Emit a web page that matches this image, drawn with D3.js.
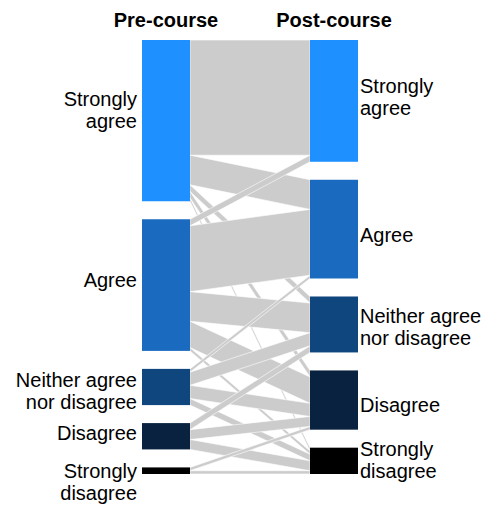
<!DOCTYPE html>
<html>
<head>
<meta charset="utf-8">
<script src="https://cdn.jsdelivr.net/npm/d3@7"></script>
<style>
  body { margin: 0; background: #fff; }
  text { font-family: "Liberation Sans", Arial, Helvetica, sans-serif; fill: #000; }
</style>
</head>
<body>
<div id="chart"></div>
<script>
// survey answers before and after the course
var stages = ["Pre-course", "Post-course"];
var levels = ["Strongly agree", "Agree", "Neither agree nor disagree", "Disagree", "Strongly disagree"];
var labelLines = [["Strongly", "agree"], ["Agree"], ["Neither agree", "nor disagree"], ["Disagree"], ["Strongly", "disagree"]];
var colors = ["#1e90ff", "#1a6bc0", "#10467e", "#092240", "#000000"];

// rows = pre-course answer, columns = post-course answer (counts)
var flows = [
    [35, 9, 2, 2, 1],
    [2, 20, 9, 8, 1],
    [0, 1, 4, 4, 2],
    [0, 0, 2, 3, 3],
    [0, 0, 0, 1, 1]
];

// small vertical nudges of the labels, px (layout only)
var labelNudge = [
    [-11, -5, 4, -3, 11],
    [-4, 6, 3, 5, -1]
];

var width = 491,
    height = 510,
    topY = 40,
    bottomY = 474,
    gap = 18,
    nodeW = 48;

var svg = d3.select("#chart").append("svg")
    .attr("width", width)
    .attr("height", height);

var preTot = flows.map(function (r) { return d3.sum(r); });
var postTot = levels.map(function (l, j) { return d3.sum(flows, function (r) { return r[j]; }); });
var N = d3.sum(preTot);

var k = d3.scaleLinear()
    .domain([0, N])
    .range([0, (bottomY - topY) - gap * (levels.length - 1)]);

var x = d3.scaleOrdinal()
    .domain(stages)
    .range([142, 310]);

function layout(totals) {
    var y = topY;
    return totals.map(function (t) {
        var n = { y0: y, y1: y + k(t) };
        y = n.y1 + gap;
        return n;
    });
}
var preNodes = layout(preTot);
var postNodes = layout(postTot);

// link positions: outgoing sorted by target, incoming sorted by source
var links = [];
var outY = preNodes.map(function (n) { return n.y0; });
var inOffsets = [];
for (var j = 0; j < levels.length; j++) {
    var yy = postNodes[j].y0;
    inOffsets[j] = [];
    for (var i = 0; i < levels.length; i++) {
        inOffsets[j][i] = yy;
        yy += k(flows[i][j]);
    }
}
for (var i = 0; i < levels.length; i++) {
    for (var j = 0; j < levels.length; j++) {
        var v = flows[i][j];
        if (v <= 0) continue;
        var h = k(v);
        links.push({ s: i, t: j, a0: outY[i], a1: outY[i] + h, b0: inOffsets[j][i], b1: inOffsets[j][i] + h });
        outY[i] += h;
    }
}

var xl = x("Pre-course") + nodeW,
    xr = x("Post-course");

svg.append("g")
    .attr("class", "links")
    .selectAll("path")
    .data(links)
    .enter()
    .append("path")
    .attr("d", function (d) {
        return "M" + xl + "," + d.a0 + "L" + xr + "," + d.b0 +
            "L" + xr + "," + d.b1 + "L" + xl + "," + d.a1 + "Z";
    })
    .attr("fill", "#cccccc")
    .attr("stroke", "#ffffff")
    .attr("stroke-width", 0.6);

var columns = [preNodes, postNodes];

columns.forEach(function (nodes, c) {
    var g = svg.append("g").attr("class", "stage");
    var x0 = x(stages[c]);

    g.selectAll("rect")
        .data(nodes)
        .enter()
        .append("rect")
        .attr("x", x0)
        .attr("y", function (d) { return d.y0; })
        .attr("width", nodeW)
        .attr("height", function (d) { return Math.max(0, d.y1 - d.y0); })
        .attr("fill", function (d, i) { return colors[i]; });

    var lab = g.selectAll("text.lab")
        .data(nodes)
        .enter()
        .append("text")
        .attr("class", "lab")
        .attr("text-anchor", c == 0 ? "end" : "start")
        .style("font-size", "20px");

    lab.each(function (d, i) {
        var lines = labelLines[i];
        var cy = (d.y0 + d.y1) / 2 + labelNudge[c][i];
        var first = cy + 7 - (lines.length - 1) * 22 / 2;
        var t = d3.select(this);
        lines.forEach(function (s, li) {
            t.append("tspan")
                .attr("x", c == 0 ? x0 - 5 : x0 + nodeW + 2)
                .attr("y", first + li * 22)
                .text(s);
        });
    });

    svg.append("text")
        .attr("x", x0 + nodeW / 2)
        .attr("y", 27)
        .attr("text-anchor", "middle")
        .style("font-size", "20px")
        .style("font-weight", "bold")
        .text(stages[c]);
});
</script>
</body>
</html>
